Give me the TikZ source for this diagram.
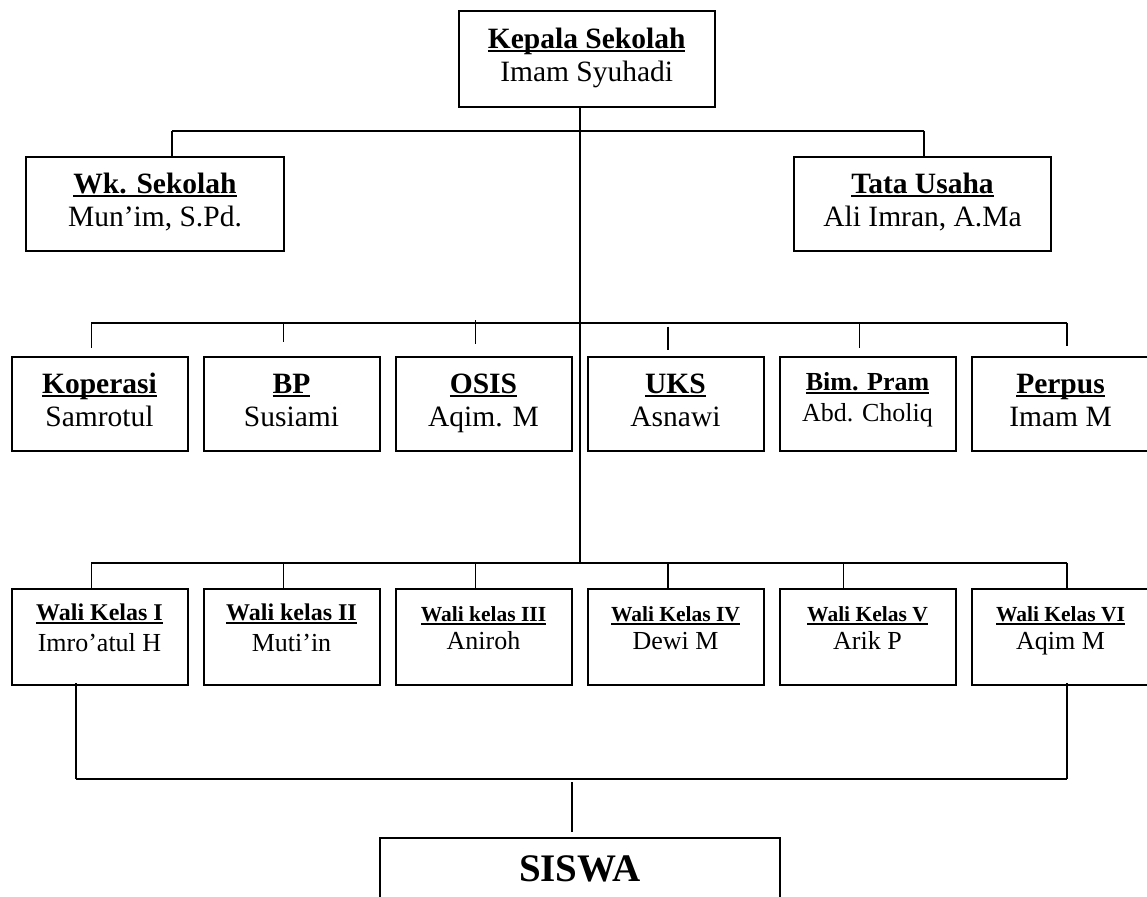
\documentclass[tikz,border=0pt]{standalone}
\usepackage{fontspec}
\setmainfont{Liberation Serif}
\newsavebox{\judulbox}
\newcommand{\judul}[1]{\sbox{\judulbox}{\textbf{#1}}\rlap{\rule[-3.4pt]{\wd\judulbox}{2pt}}\usebox{\judulbox}}

\begin{document}
\begin{tikzpicture}[x=1pt,y=-1pt,
  kotak/.style={draw,line width=2pt,align=center,inner sep=0pt,minimum height=94pt,text height=54pt,text depth=8pt,font=\fontsize{29.5}{33}\selectfont},
  unit/.style={kotak,minimum width=176pt},
  wali/.style={kotak,minimum width=176pt,minimum height=96.5pt,text height=47pt,text depth=17pt,font=\fontsize{26}{31}\selectfont},
  walikecil/.style={wali,text height=42.5pt,font=\fontsize{26}{28}\selectfont},
  garis/.style={line width=1.8pt},
  tipis/.style={line width=1.2pt}]
\useasboundingbox (0,0) rectangle (1147,896);
\clip (0,0) rectangle (1147,896);

\node[kotak,minimum width=256pt,minimum height=96pt] (kepsek) at (586.7,58.7) {\judul{Kepala Sekolah}\\Imam Syuhadi};
\node[kotak,minimum width=258pt] (wakasek) at (155,203.7) {\judul{Wk. Sekolah}\\Mun’im, S.Pd.};
\node[kotak,minimum width=257pt] (tu) at (922.5,203.7) {\judul{Tata Usaha}\\Ali Imran, A.Ma};

\node[unit] (kop) at (99.5,403.8) {\judul{Koperasi}\\Samrotul};
\node[unit] (bp) at (291.5,403.8) {\judul{BP}\\Susiami};
\node[unit] (osis) at (483.5,403.8) {\judul{OSIS}\\Aqim. M};
\node[unit] (uks) at (675.5,403.8) {\judul{UKS}\\Asnawi};
\node[unit,text height=44pt,font=\fontsize{26}{31}\selectfont] (pram) at (867.5,403.8) {\judul{Bim. Pram}\\Abd. Choliq};
\node[unit,minimum width=178pt] (perpus) at (1060.5,403.8) {\judul{Perpus}\\Imam M};

\node[wali] (w1) at (99.5,636.8) {{\fontsize{24}{31}\selectfont\judul{Wali Kelas I}}\\Imro’atul H};
\node[wali] (w2) at (291.5,636.8) {{\fontsize{24}{31}\selectfont\judul{Wali kelas II}}\\Muti’in};
\node[walikecil] (w3) at (483.5,636.8) {{\fontsize{21.5}{28}\selectfont\judul{Wali kelas III}}\\Aniroh};
\node[walikecil] (w4) at (675.5,636.8) {{\fontsize{21.5}{28}\selectfont\judul{Wali Kelas IV}}\\Dewi M};
\node[walikecil] (w5) at (867.5,636.8) {{\fontsize{21.5}{28}\selectfont\judul{Wali Kelas V}}\\Arik P};
\node[walikecil,minimum width=178pt] (w6) at (1060.5,636.8) {{\fontsize{21.5}{28}\selectfont\judul{Wali Kelas VI}}\\Aqim M};

\node[kotak,anchor=north,minimum width=400pt,minimum height=61pt,text height=25.8pt,text depth=0pt,font=\fontsize{39}{42}\selectfont\bfseries] (siswa) at (579.7,836.7) {SISWA};

\coordinate (bus1) at (580,130.7);
\coordinate (bus2) at (580,322.7);
\coordinate (bus3) at (580,562.7);
\coordinate (bus4) at (572,779);

\draw[tipis] (kepsek.south -| bus1) -- (bus3);
\draw[garis] ([xshift=17pt]wakasek.north |- bus1) -- ([xshift=1.5pt]tu.north |- bus1);
\draw[tipis] ([xshift=17pt]wakasek.north |- bus1) -- ([xshift=17pt]wakasek.north);
\draw[tipis] ([xshift=1.5pt]tu.north |- bus1) -- ([xshift=1.5pt]tu.north);

\draw[garis] ([xshift=-8.1pt]kop.north |- bus2) -- ([xshift=6.5pt]perpus.north |- bus2);
\draw[tipis] ([xshift=-8.1pt]kop.north |- bus2) -- ([xshift=-8.1pt,yshift=7.7pt]kop.north);
\draw[tipis] ([xshift=-7.7pt]bp.north |- bus2) -- ([xshift=-7.7pt,yshift=13.7pt]bp.north);
\draw[tipis] ([xshift=-8pt,yshift=2.7pt]osis.north |- bus2) -- ([xshift=-8pt,yshift=11.7pt]osis.north);
\draw[tipis] ([xshift=-7.5pt,yshift=-4pt]uks.north |- bus2) -- ([xshift=-7.5pt,yshift=5.7pt]uks.north);
\draw[tipis] ([xshift=-8pt]pram.north |- bus2) -- ([xshift=-8pt,yshift=7.7pt]pram.north);
\draw[tipis] ([xshift=6.5pt]perpus.north |- bus2) -- ([xshift=6.5pt,yshift=9.7pt]perpus.north);

\draw[garis] ([xshift=-8.1pt]w1.north |- bus3) -- ([xshift=6.5pt]w6.north |- bus3);
\draw[tipis] ([xshift=-8.1pt]w1.north |- bus3) -- ([xshift=-8.1pt]w1.north);
\draw[tipis] ([xshift=-7.7pt]w2.north |- bus3) -- ([xshift=-7.7pt]w2.north);
\draw[tipis] ([xshift=-8pt]w3.north |- bus3) -- ([xshift=-8pt]w3.north);
\draw[tipis] ([xshift=-7.5pt]w4.north |- bus3) -- ([xshift=-7.5pt]w4.north);
\draw[tipis] ([xshift=-24pt]w5.north |- bus3) -- ([xshift=-24pt]w5.north);
\draw[tipis] ([xshift=6.5pt]w6.north |- bus3) -- ([xshift=6.5pt]w6.north);

\draw[tipis] ([xshift=-23.5pt,yshift=3pt]w1.south) -- ([xshift=-23.5pt]w1.south |- bus4);
\draw[tipis] ([xshift=6.5pt,yshift=3pt]w6.south) -- ([xshift=6.5pt]w6.south |- bus4);
\draw[garis] ([xshift=-23.5pt]w1.south |- bus4) -- ([xshift=6.5pt]w6.south |- bus4);
\draw[tipis] ([yshift=-3pt]bus4) -- ([xshift=-7.7pt,yshift=5pt]siswa.north);
\end{tikzpicture}
\end{document}
